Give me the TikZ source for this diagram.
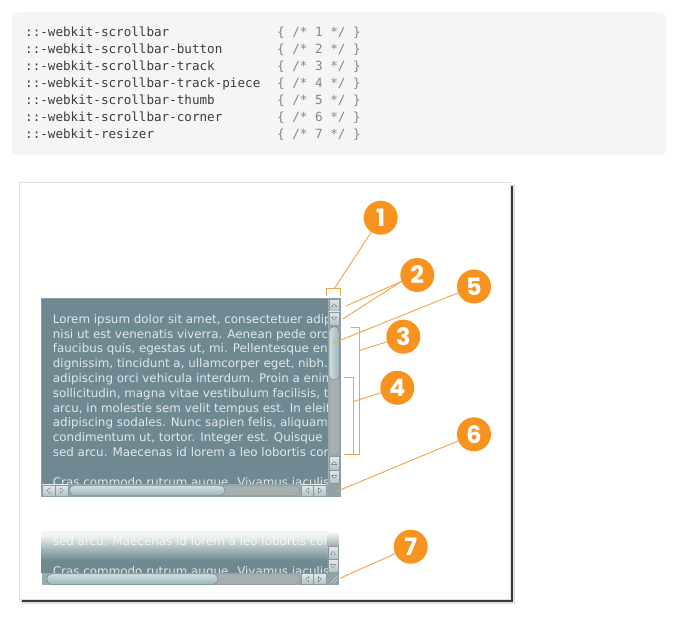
\documentclass[tikz,border=0pt]{standalone}
\usepackage{fontspec}
\newfontfamily\codefont{DejaVu Sans Mono}
\newfontfamily\lorem{DejaVu Sans}
\newfontfamily\numfont{Poppins}
\definecolor{codebg}{HTML}{F5F5F5}
\definecolor{codefg}{HTML}{3C3C3C}
\definecolor{codecm}{HTML}{858585}
\definecolor{boxc}{HTML}{6E8991}
\definecolor{boxmid}{HTML}{A3B4B8}
\definecolor{boxtop}{HTML}{F2F5F5}
\definecolor{boxd}{HTML}{8DA0A5}
\definecolor{loremc}{HTML}{E0E8EA}
\definecolor{btnt}{HTML}{E2E9EA}
\definecolor{btnb}{HTML}{B3C1C4}
\definecolor{btnd}{HTML}{8C9A9D}
\definecolor{arrf}{HTML}{F2F5F6}
\definecolor{arrd}{HTML}{5E6D71}
\definecolor{thl}{HTML}{CFDEE1}
\definecolor{thr}{HTML}{9DB4B9}
\definecolor{thd}{HTML}{7B9196}
\definecolor{colTrack}{HTML}{A6AEB0}
\definecolor{colTrackD}{HTML}{8E9799}
\definecolor{colStrip}{HTML}{9AAAAE}
\definecolor{colCorner}{HTML}{91A3A7}
\definecolor{orng}{HTML}{F7931E}
\definecolor{orline}{HTML}{F4A24A}
\pgfdeclareverticalshading{fadebox}{100bp}{color(0bp)=(boxc); color(25bp)=(boxc); color(40bp)=(boxc); color(53bp)=(boxmid); color(70bp)=(boxtop); color(100bp)=(boxtop)}
\newcommand\arrU[2]{\filldraw[arr] ({#1-2.6},{#2+1.4}) -- ({#1+2.6},{#2+1.4}) -- ({#1},{#2-1.6}) -- cycle;}
\newcommand\arrD[2]{\filldraw[arr] ({#1-2.6},{#2-1.4}) -- ({#1+2.6},{#2-1.4}) -- ({#1},{#2+1.6}) -- cycle;}
\newcommand\arrL[2]{\filldraw[arr] ({#1+1.4},{#2-2.6}) -- ({#1+1.4},{#2+2.6}) -- ({#1-1.6},{#2}) -- cycle;}
\newcommand\arrR[2]{\filldraw[arr] ({#1-1.4},{#2-2.6}) -- ({#1-1.4},{#2+2.6}) -- ({#1+1.6},{#2}) -- cycle;}
\tikzset{
  btn/.style={top color=btnt, bottom color=btnb, draw=btnd, line width=0.5pt},
  arr/.style={fill=arrf, draw=arrd, line width=0.4pt, line join=round},
  thumbv/.style={left color=thl, right color=thr, draw=thd, line width=0.6pt, rounded corners=5pt},
  thumbh/.style={top color=thl, bottom color=thr, draw=thd, line width=0.6pt, rounded corners=5pt},
  trackpiece/.style={fill=colTrack, draw=colTrackD, line width=0.5pt, rounded corners=5pt},
  callout/.style={circle, fill=orng, minimum size=34pt, inner sep=0pt, text=white,
    font=\numfont\bfseries\fontsize{24}{24}\selectfont},
  lead/.style={draw=orline, line width=0.9pt, line join=miter},
  loremtxt/.style={anchor=base west, inner sep=0pt, text=loremc, font=\lorem\fontsize{11.9}{14}\selectfont},
  codetxt/.style={anchor=base west, inner sep=0pt, text=codefg, font=\codefont\fontsize{12.6}{14}\selectfont},
  cmtxt/.style={codetxt, text=codecm},
}
\begin{document}
\begin{tikzpicture}[x=1pt,y=-1pt]
\useasboundingbox (0,0) rectangle (680,618);
\fill[white] (0,0) rectangle (680,618);
% code box
\fill[codebg, rounded corners=5pt] (11.7,12.5) rectangle (666,155);
\foreach \s/\k [count=\i] in {::-webkit-scrollbar/1, ::-webkit-scrollbar-button/2, ::-webkit-scrollbar-track/3, ::-webkit-scrollbar-track-piece/4, ::-webkit-scrollbar-thumb/5, ::-webkit-scrollbar-corner/6, ::-webkit-resizer/7}{
  \node[codetxt] (s\i) at (25,{36.5+17*(\i-1)}) {\s};
  \node[cmtxt] (k\i) at (277,{36.5+17*(\i-1)}) {\{ /* \k{} */ \}};
}
% panel with shadow
\fill[black, opacity=0.12] (21,185) rectangle (514.5,603.5);
\fill[black!78] (22,186) rectangle (512.5,601.5);
\filldraw[fill=white, draw=black!12, line width=0.6pt] (19,182) rectangle (510,599);
% main box
\fill[boxc] (41.7,298.3) rectangle (340,496.7);
\begin{scope}
  \clip (41.7,298.3) rectangle (328.3,484.3);
  \foreach \t [count=\i] in {{Lorem ipsum dolor sit amet, consectetuer adipi},
    {nisi ut est venenatis viverra. Aenean pede orci},
    {faucibus quis, egestas ut, mi. Pellentesque eni},
    {dignissim, tincidunt a, ullamcorper eget, nibh.},
    {adipiscing orci vehicula interdum. Proin a enim},
    {sollicitudin, magna vitae vestibulum facilisis, te},
    {arcu, in molestie sem velit tempus est. In eleif},
    {adipiscing sodales. Nunc sapien felis, aliquam e},
    {condimentum ut, tortor. Integer est. Quisque},
    {sed arcu. Maecenas id lorem a leo lobortis cond}}{
    \node[loremtxt] (l\i) at (52.7,{323.3+14.8*(\i-1)}) {\t};
  }
  \node[loremtxt] (l12) at (52.7,486.3) {Cras commodo rutrum augue. Vivamus iaculis};
\end{scope}
% vertical scrollbar
\fill[colStrip] (328.3,298.3) rectangle (340,484.3);
\draw[btn] (328.8,298.8) rectangle (339.5,311.8); \arrU{334.15}{305.3}
\draw[btn] (328.8,311.8) rectangle (339.5,325.2); \arrD{334.15}{318.5}
\draw[trackpiece] (329,326) rectangle (339.3,455.5);
\draw[thumbv] (329,326.5) rectangle (339.3,380);
\draw[btn] (328.8,456.5) rectangle (339.5,470); \arrU{334.15}{463.2}
\draw[btn] (328.8,470) rectangle (339.5,483.6); \arrD{334.15}{476.8}
\fill[colCorner] (328.3,484.3) rectangle (340,496.7);
% horizontal scrollbar
\fill[colStrip] (41.7,484.3) rectangle (328.3,496.7);
\draw[btn] (42.2,484.8) rectangle (55,496.2); \arrL{48.6}{490.5}
\draw[btn] (55,484.8) rectangle (68.3,496.2); \arrR{61.6}{490.5}
\draw[trackpiece] (69.3,485.3) rectangle (300,495.7);
\draw[thumbh] (69.3,485.3) rectangle (225,495.7);
\draw[btn] (301.2,484.8) rectangle (313.6,496.2); \arrL{307.4}{490.5}
\draw[btn] (313.6,484.8) rectangle (326,496.2); \arrR{319.8}{490.5}
\draw[boxd, line width=0.6pt] (41.7,298.3) rectangle (340,496.7);
% lower box
\shade[shading=fadebox] (41.7,531) rectangle (338.5,573.3);
\begin{scope}
  \clip (41.7,531) rectangle (327.5,573.3);
  \node[loremtxt, text=white, opacity=0.8] (m1) at (52.7,545.6) {sed arcu. Maecenas id lorem a leo lobortis cond};
  \node[loremtxt] (m2) at (52.7,575.4) {Cras commodo rutrum augue. Vivamus iaculis};
\end{scope}
\shade[top color=white, bottom color=colStrip] (327.5,531) rectangle (338.5,546.7);
\draw[btn] (327.8,546.7) rectangle (338.3,559.5); \arrU{333}{553.1}
\draw[btn] (327.8,559.5) rectangle (338.3,572.6); \arrD{333}{566}
\fill[colStrip] (41.7,573.3) rectangle (338.5,585);
\draw[trackpiece] (46.7,573.9) rectangle (300,584.4);
\draw[thumbh] (46.7,573.9) rectangle (218,584.4);
\draw[btn] (301.2,573.6) rectangle (313.4,584.7); \arrL{307.3}{579.2}
\draw[btn] (313.4,573.6) rectangle (326,584.7); \arrR{319.7}{579.2}
\fill[colCorner] (326.5,573.3) rectangle (338.5,585);
\draw[white!85!black, line width=0.6pt] (330,583.5) -- (337.5,576) (333.5,583.5) -- (337.5,579.5);
\draw[arrd!70, line width=0.4pt] (331,583.8) -- (337.8,577) (334.5,583.8) -- (337.8,580.5);
% callouts
\node[callout] (c1) at (380.7,217.7) {1};
\node[callout] (c2) at (417.3,275) {2};
\node[callout] (c5) at (474,286.5) {5};
\node[callout] (c3) at (403.3,336.7) {3};
\node[callout] (c4) at (397.3,387.8) {4};
\node[callout] (c6) at (474,434.3) {6};
\node[callout] (c7) at (410.7,546.7) {7};
% leaders
\draw[lead] (326.7,295.5) -- (326.7,288.3) -- (340.7,288.3) -- (340.7,295.5);
\coordinate (b1) at (334.5,288.3);
\draw[lead] (b1) -- (c1);
\coordinate (t2a) at (346,306);
\coordinate (t2b) at (342.7,319);
\draw[lead] (c2.202) -- (t2a);
\draw[lead] (c2.202) -- (t2b);
\coordinate (t5) at (332.7,343.3);
\draw[lead] (c5) -- (t5);
\draw[lead] (350.7,327.7) -- (359.3,327.7) -- (359.3,454) -- (350.7,454);
\coordinate (b3) at (359.3,350.5);
\draw[lead] (b3) -- (c3);
\draw[lead] (344,377.5) -- (353.3,377.5) -- (353.3,454) -- (344,454);
\coordinate (b4) at (353.3,401.5);
\draw[lead] (b4) -- (c4);
\coordinate (t6) at (336,491.7);
\draw[lead] (c6) -- (t6);
\coordinate (t7) at (340,578.3);
\draw[lead] (c7) -- (t7);
\end{tikzpicture}
\end{document}
